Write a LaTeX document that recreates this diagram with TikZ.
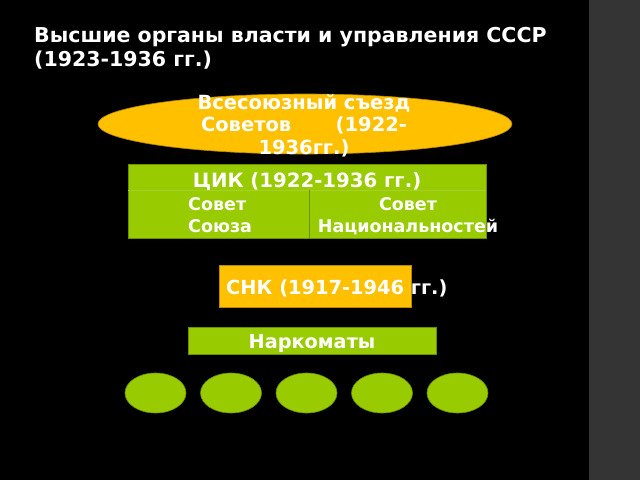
\documentclass[tikz,border=0pt]{standalone}
\usepackage{fontspec}
\setmainfont{DejaVu Sans}
\usetikzlibrary{shapes.geometric}
\definecolor{amber}{HTML}{FFC000}
\definecolor{lime}{HTML}{99CC00}
\definecolor{strip}{HTML}{343434}
\definecolor{limeedge}{HTML}{6E8F00}
\definecolor{limefaint}{HTML}{A6CF2A}
\definecolor{amberedge}{HTML}{B88A00}
\tikzset{
  wtext/.style={text=white,font=\bfseries\fontsize{19.5}{22.5}\selectfont,inner sep=0pt},
  greenbox/.style={fill=lime,draw=limeedge,line width=0.6pt},
  amberbox/.style={fill=amber,draw=amberedge,line width=0.6pt},
  leaf/.style={ellipse,fill=lime,draw=limeedge,line width=0.6pt,minimum width=61pt,minimum height=40pt,inner sep=0pt}
}
\begin{document}
\begin{tikzpicture}[x=1pt,y=-1pt]
\useasboundingbox (0,0) rectangle (640,480);
\fill[black] (0,0) rectangle (589,480);
\fill[strip] (589,0) rectangle (640,480);
% title
\node[wtext,font=\bfseries\fontsize{20.5}{24}\selectfont,anchor=base west,align=left] (title) at (34,66.3)
  {Высшие органы власти и управления СССР\\(1923-1936 гг.)};
% congress ellipse
\node[ellipse,amberbox,minimum width=414pt,minimum height=60pt,inner sep=0pt] (congress) at (305,124) {};
\node[wtext,align=center,anchor=base] (congresstext) at (304,154)
  {Всесоюзный съезд\\\makebox[206pt][s]{Советов\hfill(1922-}\\1936гг.)};
% CEC table
\path[greenbox] (128,164) rectangle (486,238);
\node[inner sep=0pt] (cik) at (307,201) {};
\draw[limefaint,line width=0.5pt] (128.3,190) -- (485.7,190);
\draw[limeedge,line width=0.5pt] (309,190) -- (309,238);
\node[wtext,font=\bfseries\fontsize{19.7}{22}\selectfont,anchor=base] (ciktext) at (307,187) {ЦИК (1922-1936 гг.)};
\node[wtext,font=\bfseries\fontsize{17.5}{22}\selectfont,anchor=base west,align=left] (soviet1) at (188,232) {Совет\\Союза};
\node[wtext,font=\bfseries\fontsize{17.5}{22}\selectfont,anchor=base,align=center] (soviet2) at (408,232) {Совет\\Национальностей};
% SNK
\path[amberbox] (219,265) rectangle (411,307);
\node[inner sep=0pt] (snk) at (315,286) {};
\node[wtext,font=\bfseries\fontsize{19.4}{22}\selectfont,anchor=base west] (snktext) at (226,294) {СНК (1917-1946 гг.)};
% Narkomats
\path[greenbox] (188,327) rectangle (436,354);
\node[wtext,font=\bfseries\fontsize{19.3}{22}\selectfont,anchor=base] (nark) at (312,348) {Наркоматы};
% leaves
\node[leaf] (l1) at (155.5,393) {};
\node[leaf] (l2) at (231,393) {};
\node[leaf] (l3) at (306.5,393) {};
\node[leaf] (l4) at (382,393) {};
\node[leaf] (l5) at (457.5,393) {};
\end{tikzpicture}
\end{document}
